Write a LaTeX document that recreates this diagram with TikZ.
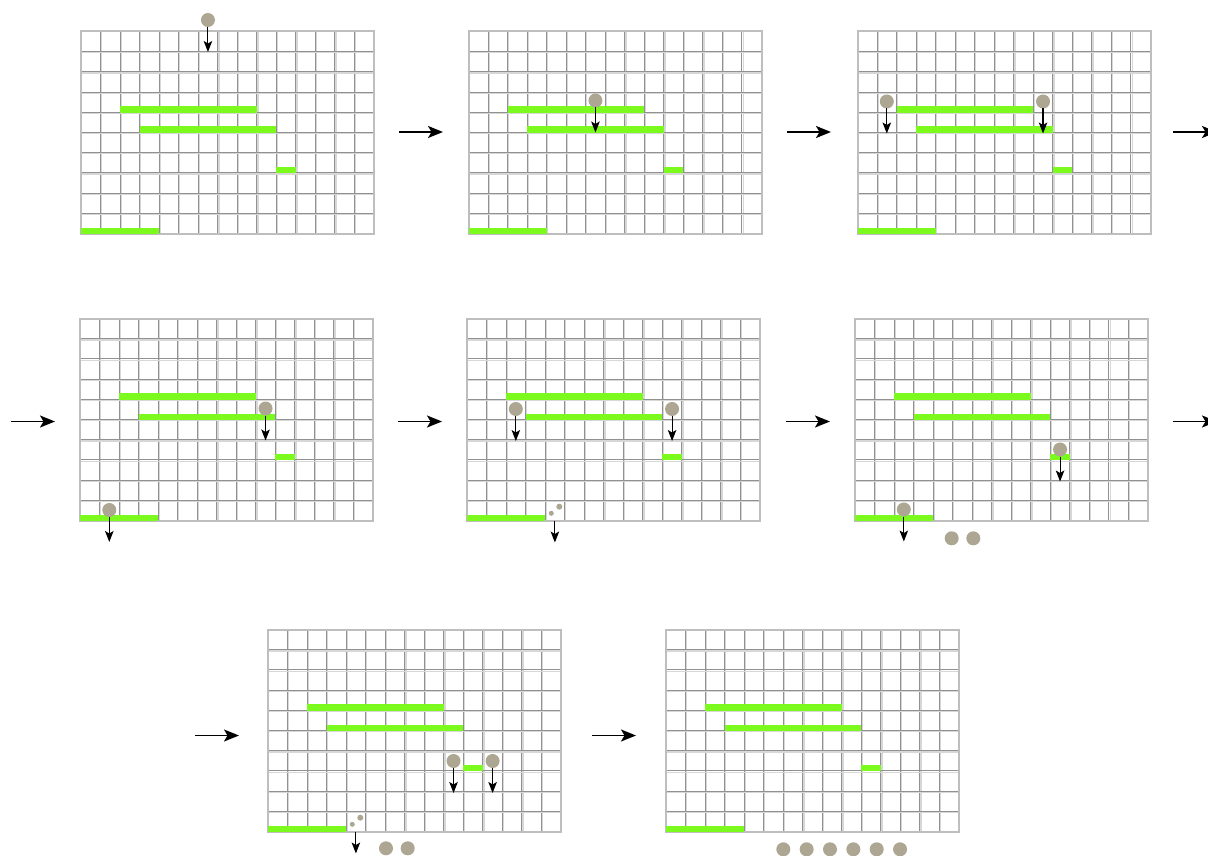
\documentclass[tikz,border=0pt]{standalone}
\usetikzlibrary{arrows.meta}
\definecolor{gridc}{RGB}{145,145,145}
\definecolor{gridl}{RGB}{215,215,215}
\definecolor{framec}{RGB}{190,190,190}
\definecolor{barc}{RGB}{124,250,30}
\definecolor{ballc}{RGB}{172,166,146}
\def\pcw{19.53}
\def\pch{20.2}
\tikzset{
  gridline/.style={draw=gridc, line width=1pt},
  gridshadow/.style={draw=gridl, line width=1.2pt},
  frameline/.style={draw=framec, line width=2pt},
  barfill/.style={fill=barc, draw=none},
  ballnode/.style={circle, fill=ballc, draw=none, minimum size=14pt, inner sep=0pt, outer sep=0pt},
  dotbig/.style={circle, fill=ballc, draw=none, minimum size=6pt, inner sep=0pt},
  dotsmall/.style={circle, fill=ballc, draw=none, minimum size=5pt, inner sep=0pt},
  droparrow/.style={-{Stealth[length=11pt,width=8.5pt,inset=2.5pt]}, line width=1.1pt, black},
  steparrow/.style={-{Stealth[length=15pt,width=12pt,inset=3.5pt]}, line width=1.8pt, black},
}
\newcommand\gridpanel{%
  \foreach \i in {1,...,14} {
    \draw[gridshadow] ({\i*\pcw+1.2},0) -- ++(0,202);
    \draw[gridline] ({\i*\pcw},0) -- ++(0,202);
  }
  \foreach \j in {1,...,9} {
    \draw[gridshadow] (0,{\j*\pch+1.2}) -- ++(293,0);
    \draw[gridline] (0,{\j*\pch}) -- ++(293,0);
  }
  \draw[frameline] (0,0) rectangle (293,202);
  \fill[barfill] ({2*\pcw},{4*\pch-6}) rectangle ({9*\pcw},{4*\pch+0.5});
  \fill[barfill] ({3*\pcw},{5*\pch-6}) rectangle ({10*\pcw},{5*\pch+0.5});
  \fill[barfill] ({10*\pcw},{7*\pch-6}) rectangle ({11*\pcw},{7*\pch+0.5});
  \fill[barfill] (0,{10*\pch-6}) rectangle ({4*\pcw},{10*\pch+0.5});
}
\begin{document}
\begin{tikzpicture}[x=1pt,y=-1pt]
\useasboundingbox (0,0) rectangle (1208,856);
\clip (0,0) rectangle (1208,856);
\fill[white] (0,0) rectangle (1208,856);

% Panel 1
\begin{scope}[shift={(81,31.5)}]
  \gridpanel
  \node[ballnode] (p1a) at ({6.5*\pcw},-11.5) {};
  \draw[droparrow] (p1a.south) -- ++(0,25);
\end{scope}
% Panel 2
\begin{scope}[shift={(468.5,31.5)}]
  \gridpanel
  \node[ballnode] (p2a) at ({6.5*\pcw},69) {};
  \draw[droparrow] (p2a.south) -- ++(0,25);
\end{scope}
% Panel 3
\begin{scope}[shift={(857.5,31.5)}]
  \gridpanel
  \node[ballnode] (p3a) at ({1.5*\pcw},70) {};
  \node[ballnode] (p3b) at ({9.5*\pcw},70) {};
  \draw[droparrow] (p3a.south) -- ++(0,25);
  \draw[droparrow] (p3b.south) -- ++(0,25);
\end{scope}
% Panel 4
\begin{scope}[shift={(80,318.5)}]
  \gridpanel
  \node[ballnode] (p4a) at ({9.5*\pcw},90) {};
  \node[ballnode] (p4b) at ({1.5*\pcw},191.5) {};
  \draw[droparrow] (p4a.south) -- ++(0,25);
  \draw[droparrow] (p4b.south) -- ++(0,25);
\end{scope}
% Panel 5
\begin{scope}[shift={(467,318.5)}]
  \gridpanel
  \node[ballnode] (p5a) at ({2.5*\pcw},90.5) {};
  \node[ballnode] (p5b) at ({10.5*\pcw},90.5) {};
  \draw[droparrow] (p5a.south) -- ++(0,25);
  \draw[droparrow] (p5b.south) -- ++(0,25);
  \node[dotsmall] (p5d1) at ({4.5*\pcw-3.6},194.8) {};
  \node[dotbig] (p5d2) at ({4.5*\pcw+4.4},188.2) {};
  \coordinate (p5s) at ({4.5*\pcw},202);
  \draw[droparrow] (p5s) -- ++(0,22);
\end{scope}
% Panel 6
\begin{scope}[shift={(855,318.5)}]
  \gridpanel
  \node[ballnode] (p6a) at ({10.5*\pcw},131) {};
  \node[ballnode] (p6b) at ({2.5*\pcw},191) {};
  \draw[droparrow] (p6a.south) -- ++(0,25);
  \draw[droparrow] (p6b.south) -- ++(0,25);
\end{scope}
\node[ballnode] (p6c1) at (951.7,538.3) {};
\node[ballnode] (p6c2) at (973.3,538.3) {};
% Panel 7
\begin{scope}[shift={(268,629.5)}]
  \gridpanel
  \node[ballnode] (p7a) at ({9.5*\pcw},131.5) {};
  \node[ballnode] (p7b) at ({11.5*\pcw},131.5) {};
  \draw[droparrow] (p7a.south) -- ++(0,25);
  \draw[droparrow] (p7b.south) -- ++(0,25);
  \node[dotsmall] (p7d1) at ({4.5*\pcw-3.6},194.8) {};
  \node[dotbig] (p7d2) at ({4.5*\pcw+4.4},188.2) {};
  \coordinate (p7s) at ({4.5*\pcw},202);
  \draw[droparrow] (p7s) -- ++(0,22);
\end{scope}
\node[ballnode] (p7c1) at (386,848.3) {};
\node[ballnode] (p7c2) at (407.7,848.3) {};
% Panel 8
\begin{scope}[shift={(666,629.5)}]
  \gridpanel
\end{scope}
\foreach \k in {0,...,5} {
  \node[ballnode] (p8c\k) at ({783.3+23.35*\k},849.3) {};
}

% Step arrows
\coordinate (r1a) at (399,132); \coordinate (r1b) at (443,132);
\coordinate (r1c) at (787,132); \coordinate (r1d) at (831,132);
\coordinate (r1e) at (1173,132); \coordinate (r1f) at (1217,132);
\coordinate (r2a) at (11,421.5); \coordinate (r2b) at (55,421.5);
\coordinate (r2c) at (398,421.5); \coordinate (r2d) at (442,421.5);
\coordinate (r2e) at (786,421.5); \coordinate (r2f) at (830,421.5);
\coordinate (r2g) at (1173,421.5); \coordinate (r2h) at (1217,421.5);
\coordinate (r3a) at (195,735.5); \coordinate (r3b) at (239,735.5);
\coordinate (r3c) at (592,735.5); \coordinate (r3d) at (636,735.5);
\draw[steparrow] (r1a) -- (r1b);
\draw[steparrow] (r1c) -- (r1d);
\draw[steparrow] (r1e) -- (r1f);
\draw[steparrow] (r2a) -- (r2b);
\draw[steparrow] (r2c) -- (r2d);
\draw[steparrow] (r2e) -- (r2f);
\draw[steparrow] (r2g) -- (r2h);
\draw[steparrow] (r3a) -- (r3b);
\draw[steparrow] (r3c) -- (r3d);
\end{tikzpicture}
\end{document}
